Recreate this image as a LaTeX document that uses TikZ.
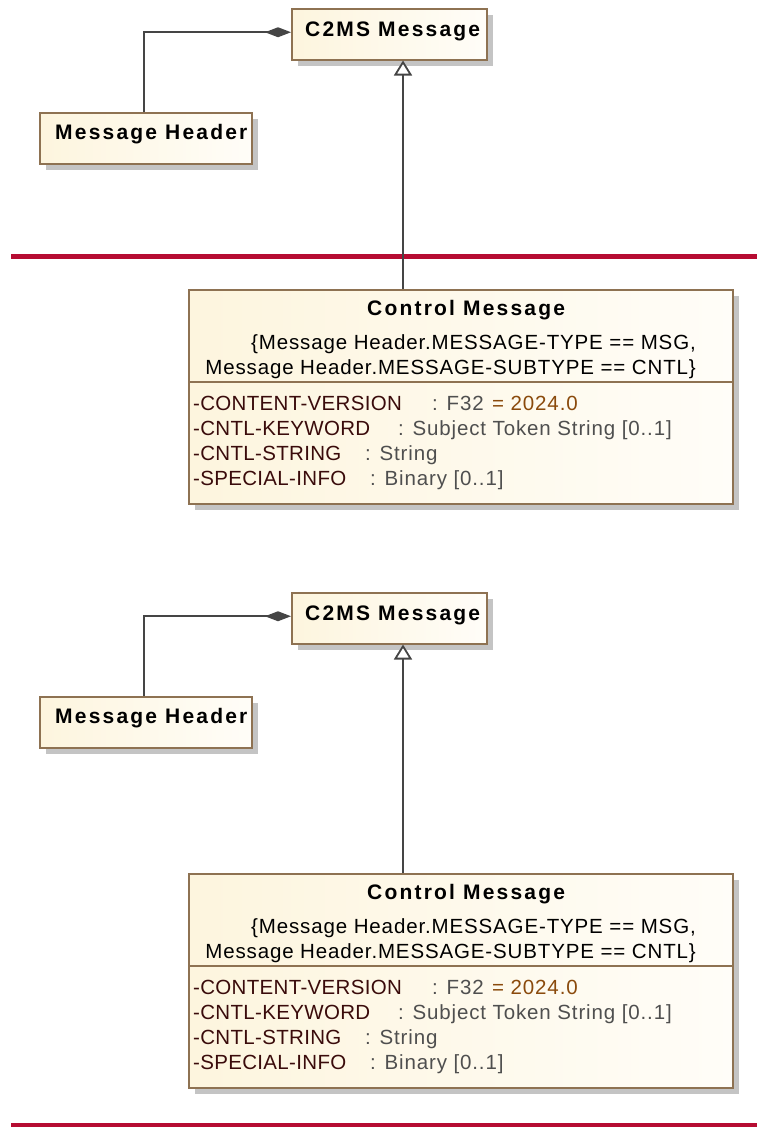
\documentclass[tikz,border=0pt]{standalone}
\usepackage{fontspec}
\setmainfont{Liberation Sans}
\newfontfamily\titlefont{Liberation Sans}[LetterSpace=10.5]
\newfontfamily\namefont{Liberation Sans}[LetterSpace=1.6]
\newfontfamily\typefont{Liberation Sans}[LetterSpace=4.2]
\usetikzlibrary{shadows,arrows.meta}

\definecolor{umlborder}{HTML}{8E7252}
\definecolor{umlfillL}{HTML}{FDF5DE}
\definecolor{umlfillR}{HTML}{FFFDF8}
\definecolor{shadowgray}{HTML}{C4C4C4}
\definecolor{attrname}{HTML}{3A0B0B}
\definecolor{attrtype}{HTML}{4F4F4F}
\definecolor{attrval}{HTML}{8A4A0C}
\definecolor{sepline}{HTML}{B60C32}
\definecolor{wire}{HTML}{454545}

\tikzset{
  umlbox/.style={draw=umlborder, line width=1.5pt, left color=umlfillL, right color=umlfillR,
    drop shadow={shadow xshift=6pt, shadow yshift=-6pt, fill=shadowgray, opacity=1},
    inner sep=0pt, anchor=north west},
  titletext/.style={font=\titlefont\bfseries\fontsize{21}{25}\selectfont, text=black, inner sep=0pt, anchor=base west},
  bodytext/.style={font=\typefont\fontsize{20.5}{25}\selectfont, text=black, inner sep=0pt},
  attrN/.style={bodytext, font=\namefont\fontsize{20.5}{25}\selectfont, text=attrname, anchor=base west},
  attrT/.style={bodytext, text=attrtype, anchor=base west},
  attrV/.style={bodytext, text=attrval, anchor=base west},
  wireline/.style={draw=wire, line width=1.8pt},
  divider/.style={draw=sepline, line width=4.5pt},
}

\begin{document}
\begin{tikzpicture}[x=1pt, y=-1pt]
\useasboundingbox (0,0) rectangle (757,1127);

% package dividers
\draw[divider] (11,256.5) coordinate (d1a) -- (757,256.5) coordinate (d1b);
\draw[divider] (11,1125.5) coordinate (d2a) -- (757,1125.5) coordinate (d2b);

\foreach \dy/\p in {0/a,584/b}{
\begin{scope}[shift={(0,\dy)}, name prefix=\p-]
  % classes
  \node[umlbox, minimum width=195pt, minimum height=51pt] (c2ms) at (291,8) {};
  \node[titletext] (c2mslabel) at (305,36.5) {C2MS Message};

  \node[umlbox, minimum width=212pt, minimum height=51pt] (mh) at (39,112) {};
  \node[titletext] (mhlabel) at (55,139) {Message Header};

  \node[umlbox, minimum width=544pt, minimum height=214pt] (cm) at (188,289) {};
  \node[titletext] (cmlabel) at (367,315.5) {Control Message};
  \node[bodytext, anchor=base east] (cons1) at (696,349.5) {\{Message Header.MESSAGE-TYPE == MSG,};
  \node[bodytext, anchor=base east] (cons2) at (696,374.5) {Message Header.MESSAGE-SUBTYPE == CNTL\}};
  \draw[draw=umlborder, line width=1.5pt] (cm.west |- 0,382) coordinate (sepL) -- (cm.east |- 0,382) coordinate (sepR);

  % attributes
  \node[attrN] (a1n) at (193,410.5) {-CONTENT-VERSION};
  \node[attrT] (a1t) at (432,410.5) {: F32};
  \node[attrV] (a1v) at (492,410.5) {= 2024.0};
  \node[attrN] (a2n) at (193,435.5) {-CNTL-KEYWORD};
  \node[attrT] (a2t) at (398,435.5) {: Subject Token String [0..1]};
  \node[attrN] (a3n) at (193,460.5) {-CNTL-STRING};
  \node[attrT] (a3t) at (365,460.5) {: String};
  \node[attrN] (a4n) at (193,485.5) {-SPECIAL-INFO};
  \node[attrT] (a4t) at (370,485.5) {: Binary [0..1]};

  % composition: header is part of the message
  \draw[wireline, -{Diamond[length=26pt, width=10pt, fill=wire]}]
    ([xshift=105pt]mh.north west) |- ([yshift=2pt]c2ms.west);

  % generalization
  \coordinate (gx) at (403,0);
  \draw[wireline, -{Triangle[open, length=15pt, width=18pt, fill=white]}]
    (cm.north -| gx) -- (c2ms.south -| gx);
\end{scope}
}
\end{tikzpicture}
\end{document}
